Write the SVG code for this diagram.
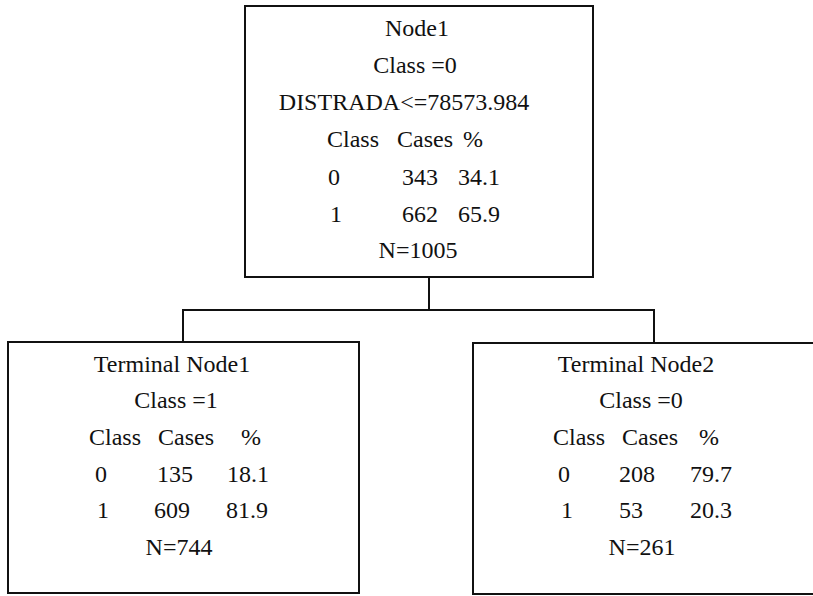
<svg xmlns="http://www.w3.org/2000/svg" width="813" height="596" viewBox="0 0 813 596">
  <style>
    .box { fill: #ffffff; stroke: #111111; stroke-width: 2; }
    .link { fill: none; stroke: #111111; stroke-width: 2; }
    text { font-size: 24px; fill: #111111; }
    .c { text-anchor: middle; }
  </style>
  <rect width="813" height="596" fill="#ffffff"/>

  <g id="connectors">
    <polyline class="link" points="429,277 429,310"/>
    <polyline class="link" points="183,342 183,310 654,310 654,343"/>
  </g>

  <g font-family="'Liberation Serif', Tinos, 'Times New Roman', 'DejaVu Serif', serif">
  <g id="node1">
    <rect class="box" x="245" y="6" width="348" height="271"/>
    <text class="c" x="417" y="36">Node1</text>
    <text class="c" x="415" y="73">Class =0</text>
    <text class="c" x="404" y="110">DISTRADA&lt;=78573.984</text>
    <text x="327" y="147">Class</text>
    <text x="397" y="147">Cases</text>
    <text x="463" y="147">%</text>
    <text x="328" y="185">0</text>
    <text x="402" y="185">343</text>
    <text x="458" y="185">34.1</text>
    <text x="330" y="222">1</text>
    <text x="402" y="222">662</text>
    <text x="458" y="222">65.9</text>
    <text class="c" x="418" y="258">N=1005</text>
  </g>

  <g id="terminal1">
    <rect class="box" x="8" y="342" width="351" height="251"/>
    <text class="c" x="172" y="372">Terminal Node1</text>
    <text class="c" x="176" y="408">Class =1</text>
    <text x="89" y="445">Class</text>
    <text x="158" y="445">Cases</text>
    <text x="241" y="445">%</text>
    <text x="95" y="482">0</text>
    <text x="157" y="482">135</text>
    <text x="227" y="482">18.1</text>
    <text x="97" y="518">1</text>
    <text x="154" y="518">609</text>
    <text x="226" y="518">81.9</text>
    <text class="c" x="179" y="555">N=744</text>
  </g>

  <g id="terminal2">
    <rect class="box" x="473" y="343" width="350" height="251"/>
    <text class="c" x="636" y="372">Terminal Node2</text>
    <text class="c" x="641" y="408">Class =0</text>
    <text x="553" y="445">Class</text>
    <text x="622" y="445">Cases</text>
    <text x="699" y="445">%</text>
    <text x="558" y="482">0</text>
    <text x="619" y="482">208</text>
    <text x="690" y="482">79.7</text>
    <text x="561" y="518">1</text>
    <text x="619" y="518">53</text>
    <text x="690" y="518">20.3</text>
    <text class="c" x="642" y="555">N=261</text>
  </g>
  </g>
</svg>
